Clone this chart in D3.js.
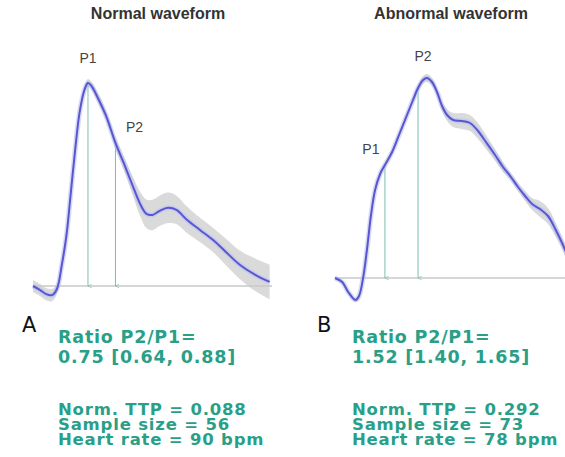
<!DOCTYPE html>
<html>
<head>
<meta charset="utf-8">
<script src="https://cdn.jsdelivr.net/npm/d3@7"></script>
<style>
  body { margin: 0; background: #fff; }
  svg { display: block; }
</style>
</head>
<body>
<div id="chart"></div>
<script>
// normalised time (0..1) and normalised amplitude (baseline 0, max 1)
var normalT   = [0, .03, .055, .08, .10, .12, .14, .155, .175, .195, .215, .23, .245, .27, .305, .345, .38, .415, .45, .475, .50, .53, .565, .60, .645, .70, .755, .805, .865, .93, .99];
var normalAmp = [0, -.02, -.04, -.045, -.015, .10, .25, .42, .655, .855, .965, 1.0, .985, .93, .84, .705, .605, .50, .40, .355, .35, .37, .385, .375, .325, .275, .225, .17, .105, .055, .02];
var normalCi  = [.03, .03, .03, .03, .025, .02, .02, .02, .02, .02, .02, .02, .02, .025, .025, .03, .035, .045, .06, .07, .075, .075, .075, .07, .065, .06, .06, .065, .07, .08, .085];

var abnT   = [0, .03, .055, .085, .10, .117, .133, .15, .167, .188, .208, .238, .27, .30, .325, .346, .367, .383, .404, .425, .446, .467, .492, .529, .5625, .596, .629, .667, .70, .733, .7625, .792, .821, .854, .8875, .92, .95, .98, 1.0];
var abnAmp = [0, -.02, -.07, -.11, -.09, 0, .14, .315, .44, .52, .565, .63, .725, .815, .89, .95, .99, 1.0, .98, .93, .86, .815, .79, .785, .775, .735, .68, .615, .555, .505, .455, .41, .37, .345, .31, .24, .165, .08, .03];
var abnCi  = [.01, .01, .01, .01, .01, .01, .01, .01, .01, .012, .012, .012, .012, .012, .015, .02, .02, .02, .02, .02, .025, .03, .035, .04, .04, .04, .035, .03, .025, .02, .02, .025, .03, .04, .04, .035, .03, .03, .03];

var panelTitles = ["Normal waveform", "Abnormal waveform"];
var panelLetters = ["A", "B"];
var peakNames = ["P1", "P2"];
var normalPeaks = [.23, .345];
var abnPeaks = [.208, .346];

var normalStats = ["Ratio P2/P1=", "0.75 [0.64, 0.88]", "Norm. TTP = 0.088", "Sample size = 56", "Heart rate = 90 bpm"];
var abnStats    = ["Ratio P2/P1=", "1.52 [1.40, 1.65]", "Norm. TTP = 0.292", "Sample size = 73", "Heart rate = 78 bpm"];

var W = 565, H = 457;
var teal = "#2a9f88";

var svg = d3.select("#chart").append("svg")
    .attr("width", W)
    .attr("height", H);

function toRows(t, a, c) {
    return t.map(function(v, i) { return {t: v, a: a[i], c: c[i]}; });
}

function ampAt(t, ts, as) {
    for (var i = 1; i < ts.length; i++) {
        if (ts[i] >= t) {
            var f = (t - ts[i-1]) / (ts[i] - ts[i-1]);
            return as[i-1] + f * (as[i] - as[i-1]);
        }
    }
    return as[as.length - 1];
}

var panels = [
    {rows: toRows(normalT, normalAmp, normalCi), ts: normalT, as: normalAmp, peaks: normalPeaks,
     x: d3.scaleLinear().domain([0, 1]).range([33, 272]),
     y: d3.scaleLinear().domain([0, 1]).range([286, 83]),
     baseEnd: 272, titleX: 158, letterX: 22, statsX: 58,
     labelOff: [[0, -20], [19, -11]]},
    {rows: toRows(abnT, abnAmp, abnCi), ts: abnT, as: abnAmp, peaks: abnPeaks,
     x: d3.scaleLinear().domain([0, 1]).range([335, 575]),
     y: d3.scaleLinear().domain([0, 1]).range([278, 78]),
     baseEnd: 565, titleX: 451, letterX: 317, statsX: 352,
     labelOff: [[-14, -11], [5, -27]]}
];
var stats = [normalStats, abnStats];

// arrow head for the peak markers
svg.append("defs").append("marker")
    .attr("id", "tip")
    .attr("viewBox", "0 0 6 6")
    .attr("refX", 3).attr("refY", 6)
    .attr("markerWidth", 4).attr("markerHeight", 4)
    .attr("orient", "auto-start-reverse")
    .append("path")
    .attr("d", "M0,0 L3,6 L6,0")
    .attr("fill", "none")
    .attr("stroke", "#7fbdb3");

panels.forEach(function(p, k) {
    var g = svg.append("g");
    var x = p.x, y = p.y;

    var area = d3.area()
        .x(function(d) { return x(d.t); })
        .y0(function(d) { return y(d.a - d.c); })
        .y1(function(d) { return y(d.a + d.c); })
        .curve(d3.curveCatmullRom);

    g.append("path").datum(p.rows)
        .attr("d", area)
        .attr("fill", "#d4d4d4")
        .attr("opacity", 0.85);

    // baseline
    g.append("line")
        .attr("x1", x(0)).attr("x2", p.baseEnd)
        .attr("y1", y(0)).attr("y2", y(0))
        .attr("stroke", "#c9c9c9")
        .attr("stroke-width", 1.5);

    // peak markers
    p.peaks.forEach(function(pt, j) {
        var a = ampAt(pt, p.ts, p.as);
        g.append("line")
            .attr("x1", x(pt)).attr("x2", x(pt))
            .attr("y1", y(a)).attr("y2", y(0))
            .attr("stroke", "#7fbdb3")
            .attr("stroke-width", 1)
            .attr("marker-end", "url(#tip)");
        g.append("text")
            .attr("x", x(pt) + p.labelOff[j][0])
            .attr("y", y(a) + p.labelOff[j][1])
            .attr("text-anchor", "middle")
            .attr("font-family", "Liberation Sans, Arial, sans-serif")
            .attr("font-size", 14)
            .attr("fill", "#444")
            .text(peakNames[j]);
    });

    var line = d3.line()
        .x(function(d) { return x(d.t); })
        .y(function(d) { return y(d.a); })
        .curve(d3.curveCatmullRom);

    g.append("path").datum(p.rows)
        .attr("d", line)
        .attr("fill", "none")
        .attr("stroke", "#b9c3f0")
        .attr("stroke-width", 5)
        .attr("stroke-opacity", 0.6);

    g.append("path").datum(p.rows)
        .attr("d", line)
        .attr("fill", "none")
        .attr("stroke", "#5a55d2")
        .attr("stroke-width", 2);

    g.append("text")
        .attr("x", p.titleX).attr("y", 19)
        .attr("text-anchor", "middle")
        .attr("font-family", "Liberation Sans, Arial, sans-serif")
        .attr("font-weight", "bold")
        .attr("font-size", 16)
        .attr("fill", "#333")
        .text(panelTitles[k]);

    g.append("text")
        .attr("x", p.letterX).attr("y", 332)
        .attr("font-family", "DejaVu Sans, sans-serif")
        .attr("font-size", 21)
        .attr("fill", "#111")
        .text(panelLetters[k]);

    var ys = [343, 363, 415, 430, 445];
    var fs = [17.5, 17.5, 16.5, 16.5, 16.5];
    g.selectAll("text.stat").data(stats[k]).enter()
        .append("text")
        .attr("class", "stat")
        .attr("x", p.statsX)
        .attr("y", function(d, i) { return ys[i]; })
        .attr("font-family", "DejaVu Sans, sans-serif")
        .attr("font-weight", "bold")
        .attr("font-size", function(d, i) { return fs[i]; })
        .attr("letter-spacing", 0.8)
        .attr("fill", teal)
        .text(function(d) { return d; });
});
</script>
</body>
</html>
